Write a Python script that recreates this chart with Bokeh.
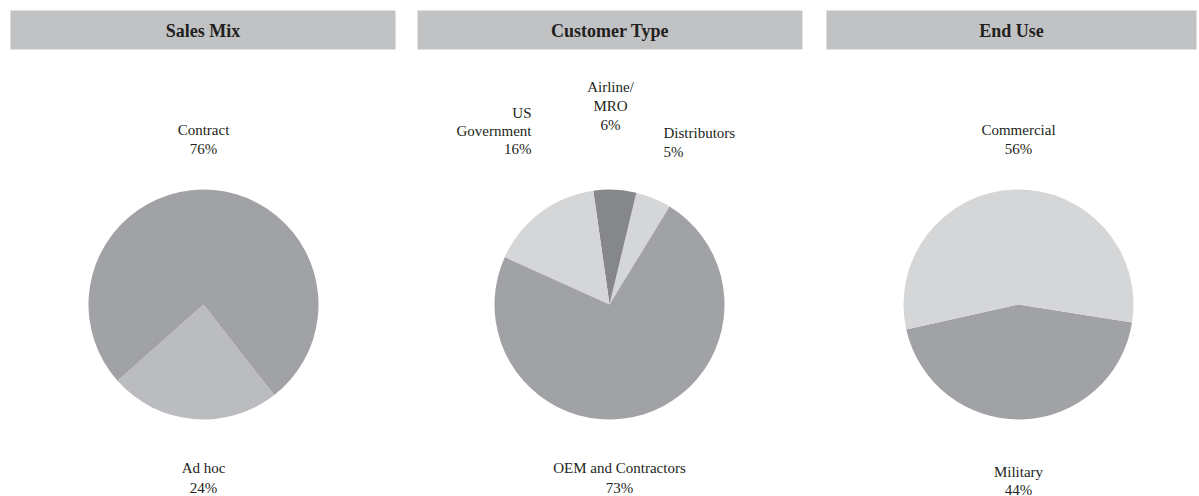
import math
from bokeh.plotting import figure
from bokeh.models import Range1d, ColumnDataSource
from bokeh.core.properties import value
from bokeh.embed import file_html
from bokeh.resources import INLINE

# ---- data ----
titles = ["Sales Mix", "Customer Type", "End Use"]

sales_labels = ["Ad hoc", "Contract"]
sales_values = [24, 76]

cust_labels = ["Distributors", "Airline/\nMRO", "US\nGovernment", "OEM and Contractors"]
cust_values = [5, 6, 16, 73]

end_labels = ["Military", "Commercial"]
end_values = [44, 56]

# ---- layout / style ----
W, H = 1199, 496
TEXT_COLOR = "#231f20"
FONT = value("Liberation Serif")

def Y(img_y):
    return H - img_y  # image y -> data y (data y up)

p = figure(width=W, height=H, output_backend="svg", toolbar_location=None,
           x_range=Range1d(0, W), y_range=Range1d(0, H),
           min_border=0)
p.axis.visible = False
p.xgrid.visible = False
p.ygrid.visible = False
p.outline_line_color = None
p.background_fill_color = "white"
p.border_fill_color = "white"

# header bars
bars = [(10, 395), (417, 802), (826, 1196)]
hb_left = [b[0] for b in bars]
hb_right = [b[1] for b in bars]
p.quad(left=hb_left, right=hb_right, top=[Y(10)] * 3, bottom=[Y(49)] * 3,
       fill_color="#c1c2c4", line_color=None)
p.text(x=[(a + b) / 2 for a, b in bars], y=[Y(30)] * 3, text=titles,
       text_font=FONT, text_font_style="bold", text_font_size="18px",
       text_color=TEXT_COLOR, text_align="center", text_baseline="middle")

R = 115

def pie(cx, cy, values, colors, start_deg):
    total = float(sum(values))
    starts, ends = [], []
    a = start_deg
    for v in values:
        starts.append(math.radians(a))
        a += 360.0 * v / total
        ends.append(math.radians(a))
    src = ColumnDataSource(dict(x=[cx] * len(values), y=[Y(cy)] * len(values),
                                s=starts, e=ends, c=colors))
    p.wedge(x="x", y="y", radius=R, start_angle="s", end_angle="e",
            fill_color="c", line_color=None, source=src)

pie(203, 304, sales_values, ["#bbbcbf", "#a1a2a5"], 221.6)
pie(609, 304, cust_values, ["#d5d6d8", "#86878b", "#d5d6d8", "#a1a2a5"], 58.5)
pie(1018, 304, end_values, ["#a1a2a5", "#d5d6d8"], 192.6)

def label(x, y, name, val, align="center", step=19):
    lines = name.split("\n") + ["%d%%" % val]
    ys = [Y(y + i * step) for i in range(len(lines))]
    p.text(x=[x] * len(lines), y=ys, text=lines, text_font=FONT,
           text_font_size="15px", text_color=TEXT_COLOR,
           text_align=align, text_baseline="middle")

# Sales mix labels
label(203, 129, sales_labels[1], sales_values[1])
label(203, 467, sales_labels[0], sales_values[0], step=20)
# Customer type labels
label(610, 86, cust_labels[1], cust_values[1])
label(531, 112, cust_labels[2], cust_values[2], align="right", step=18)
label(663, 132, cust_labels[0], cust_values[0], align="left", step=19)
label(619, 467, cust_labels[3], cust_values[3], step=20)
# End use labels
label(1018, 129, end_labels[1], end_values[1])
label(1018, 471, end_labels[0], end_values[0], step=18)

open("out.html", "w").write(file_html(p, INLINE))
